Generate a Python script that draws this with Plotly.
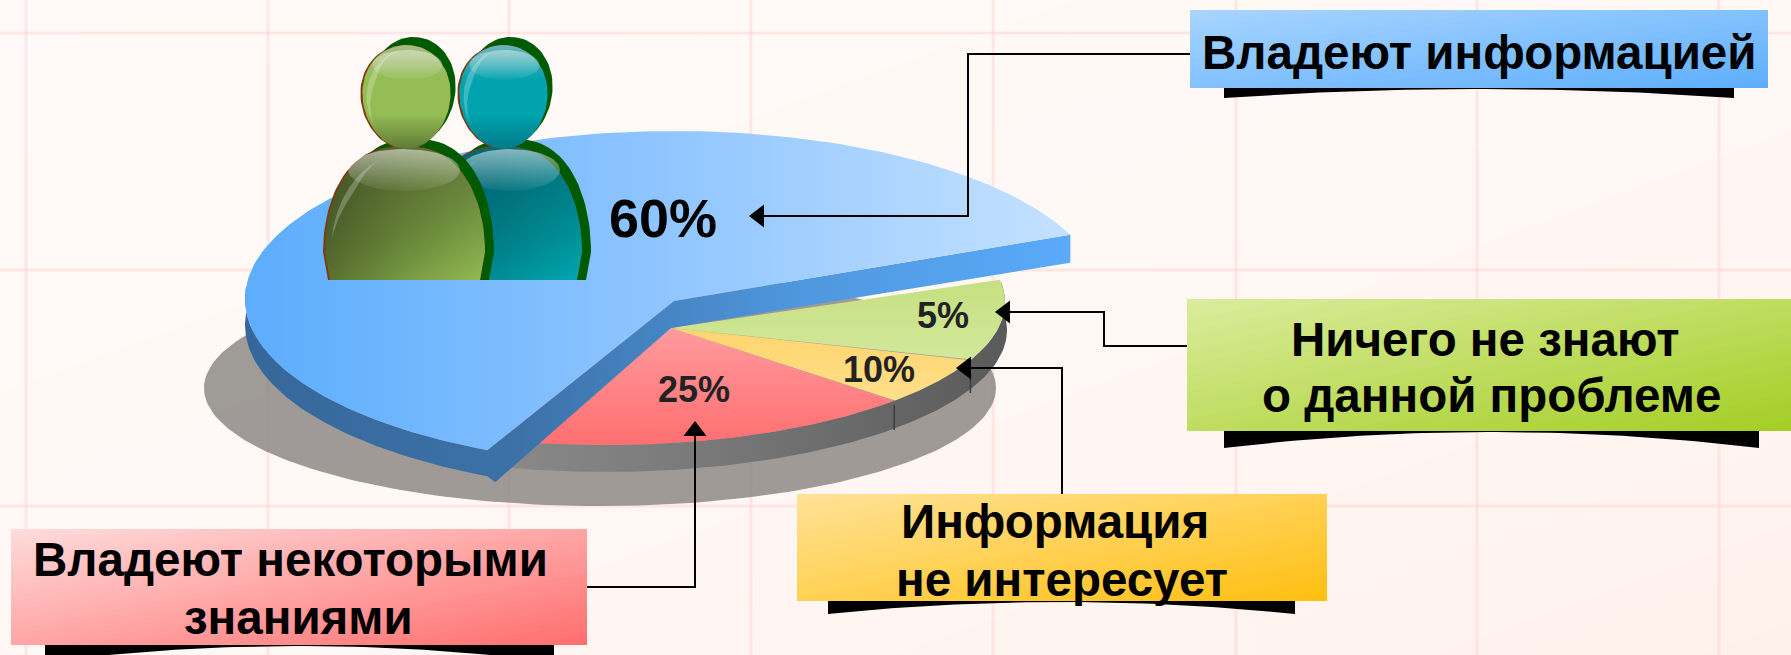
import numpy as np
import plotly.graph_objects as go

# ---------- chart content ----------
slice_names = ["Владеют информацией", "Владеют некоторыми знаниями", "Информация не интересует", "Ничего не знают о данной проблеме"]
slice_values = [60, 25, 10, 5]
# slice boundaries on the tilted drawing, in degrees of ellipse angle
blue_edges = [22.5, 244.2]
lower_edges = [-115, -43.7, -24, 9]
lower_colors = [["#ff9a9e", "#ff6f70"], ["#ffd46c", "#ffdf8a"], ["#c6df80", "#d2e89c"]]

W, H = 1791, 655
fig = go.Figure()
shapes = []
TOP_DARK = "#005a00"


def hexrgb(c):
    c = c.lstrip("#")
    return np.array([int(c[i:i + 2], 16) for i in (0, 2, 4)], float)


def mix(stops, t):
    n = len(stops) - 1
    p = min(max(t, 0), 1) * n
    i = min(int(p), n - 1)
    c = hexrgb(stops[i]) * (1 - (p - i)) + hexrgb(stops[i + 1]) * (p - i)
    return "rgb(%d,%d,%d)" % tuple(np.round(c))


def clip(poly, f):
    out = []
    for a, b in zip(poly, poly[1:] + poly[:1]):
        fa, fb = f(a), f(b)
        if fa >= 0:
            out.append(a)
        if (fa >= 0) != (fb >= 0):
            s = fa / (fa - fb)
            out.append((a[0] + s * (b[0] - a[0]), a[1] + s * (b[1] - a[1])))
    return out


def grad_rect(x0, y0, x1, y1, stops, layer="above", n=48):
    rect = [(x0, y0), (x1, y0), (x1, y1), (x0, y1)]
    tf = lambda p: 0.5 * (p[0] - x0) / (x1 - x0) + 0.5 * (p[1] - y0) / (y1 - y0)
    for i in range(n):
        ti = i / n
        poly = clip(rect, lambda p: tf(p) - ti) if i else rect
        if len(poly) < 3:
            continue
        path = "M" + "L".join(f"{a:.2f},{b:.2f}" for a, b in poly) + "Z"
        shapes.append(dict(type="path", path=path, xref="x", yref="y", layer=layer,
                           fillcolor=mix(stops, (i + 0.5) / n), line_width=0))


def area(xs, ys, name, color=None, grad=None, gtype="horizontal", start=None, stop=None, line=None):
    kw = dict(x=list(xs), y=list(ys), mode="lines", fill="toself", name=name, hoverinfo="skip",
              line=dict(width=line[1] if line else 0, color=line[0] if line else "rgba(0,0,0,0)"))
    if grad:
        # the y axis runs downward, so vertical colour lists (written top to bottom) are flipped
        g_list = grad[::-1] if gtype == "vertical" else grad
        cs = [[i / (len(g_list) - 1), c] for i, c in enumerate(g_list)]
        g = dict(type=gtype, colorscale=cs)
        if start is not None:
            g.update(start=start, stop=stop)
        kw["fillgradient"] = g
    else:
        kw["fillcolor"] = color
    fig.add_trace(go.Scatter(**kw))


def arc(cx, cy, rx, ry, t0, t1, n=120):
    t = np.radians(np.linspace(t0, t1, n))
    return cx + rx * np.cos(t), cy - ry * np.sin(t)


# ---------- background ----------
grad_rect(0, 0, W, H, ["#fffaf9", "#fff8f5", "#fef1ec"], layer="below", n=40)
for gx in [26, 268, 509, 751, 993, 1236, 1477, 1719]:
    shapes.append(dict(type="line", x0=gx, x1=gx, y0=0, y1=H, xref="x", yref="y", layer="below",
                       line=dict(color="rgba(255,205,200,0.42)", width=3)))
for gy in [33, 270, 506]:
    shapes.append(dict(type="line", x0=0, x1=W, y0=gy, y1=gy, xref="x", yref="y", layer="below",
                       line=dict(color="rgba(255,205,200,0.42)", width=3)))

# ---------- shadow disc ----------
x, y = arc(600, 388, 396, 118, 0, 360, 240)
area(x, y, "shadow", color="rgba(122,118,114,0.72)")

# ---------- lower part of the pie ----------
LCX, LCY, LRX, LRY = 605, 302, 400, 143
AX, AY = 671, 328
x1, y1 = arc(LCX, LCY, LRX, LRY, -118, 8)
x2, y2 = arc(605, 330, 402, 142, 8, -118)
area(np.r_[x1, x2], np.r_[y1, y2], "rim",
     grad=["#8e8e8e", "#777777", "#5a5a5a"], start=440, stop=1006)
for i in range(3):
    xa, ya = arc(LCX, LCY, LRX, LRY, lower_edges[i], lower_edges[i + 1])
    area(np.r_[AX, xa], np.r_[AY, ya], slice_names[i + 1], grad=lower_colors[i], gtype="vertical")
for e, y_from, y_to in [(lower_edges[1], 405, 430), (lower_edges[2], 375, 393)]:
    xa, ya = arc(LCX, LCY, LRX, LRY, e, e, 1)
    fig.add_trace(go.Scatter(x=[xa[0], xa[0]], y=[y_from, y_to], mode="lines",
                             line=dict(color="#3c3c3c", width=1.5), hoverinfo="skip"))

# ---------- large blue slice ----------
BCX, BCY, BRX, BRY = 674, 299, 429, 168
BAX, BAY = 674, 301
xb, yb = arc(BCX, BCY, BRX, BRY, blue_edges[0], blue_edges[1], 240)
xr, yr = arc(BCX, BCY, BRX, BRY, 176, blue_edges[1], 100)
wx = np.r_[xr + 0, xr[-1] + 8, AX, xb[0], xb[0], BAX, xr[-1], xr[::-1]]
wy = np.r_[yr + 26, yr[-1] + 32, AY, yb[0] + 28, yb[0], BAY, yr[-1], yr[::-1]]
area(wx, wy, "slice wall", grad=["#36679a", "#3c72a8", "#4f97de", "#5aabfa"], start=245, stop=1075)
area(np.r_[BAX, xb], np.r_[BAY, yb], slice_names[0], grad=["#5cadfd", "#8fc5ff", "#c4e1ff"])


# ---------- people ----------
def head(cx, cy, rx, ry):
    t = np.radians(np.linspace(0, 360, 90))
    w = 1 + 0.07 * np.sin(t)
    return cx + rx * np.cos(t) * w, cy - ry * np.sin(t)


def body(cx, top, w, base=252, bottom=280):
    t = np.radians(np.linspace(0, 180, 60))
    xs = cx + w * np.sign(np.cos(t)) * np.abs(np.cos(t)) ** 0.8
    ys = base - (base - top) * np.sin(t)
    return np.r_[cx + w - 5, xs, cx - w + 5], np.r_[bottom, ys, bottom]


def crescent(cx, cy, rx, ry, t0, t1, shift):
    xo, yo = arc(cx, cy, rx, ry, t0, t1, 40)
    xi, yi = arc(cx + shift, cy, rx, ry, t1, t0, 40)
    mid = np.abs(np.linspace(-1, 1, 40))
    xi = xo[::-1] + (xi - xo[::-1]) * (1 - mid)
    area(np.r_[xo, xi], np.r_[yo, yi], "gloss", color="rgba(255,255,255,0.24)")


def person(hx, bx, w, bcols, hcols, hl_x, hl_rx, tint):
    xb_, yb_ = body(bx + 9, 139, w - 1)
    area(xb_, yb_, "person", color=TOP_DARK)
    xb_, yb_ = body(bx - 1, 146, w)
    area(xb_, yb_, "person", color="#7d3a10")
    xb_, yb_ = body(bx, 147, w - 1)
    area(xb_, yb_, "person", grad=bcols)
    area(xb_, yb_, "shade", grad=[tint, "rgba(0,0,0,0)"], gtype="vertical")
    xe, ye = arc(hl_x, 170, hl_rx, 21, 0, 360, 60)
    area(xe, ye, "gloss", grad=["rgba(255,255,255,0.52)", "rgba(255,255,255,0.04)"], gtype="vertical")
    crescent(bx, 252, w - 7, 98, 110, 172, 8)
    xh, yh = head(hx + 7, 90, 42, 53)
    area(xh, yh, "person", color=TOP_DARK)
    xh, yh = head(hx - 1, 97, 45, 52)
    area(xh, yh, "person", color="#7d3a10")
    xh, yh = head(hx, 97, 44, 52)
    area(xh, yh, "person", grad=hcols, gtype="vertical")
    xe, ye = arc(hx + 1, 65, 35, 15, 0, 360, 60)
    area(xe, ye, "gloss", grad=["rgba(255,255,255,0.42)", "rgba(255,255,255,0.03)"], gtype="vertical")
    crescent(hx, 97, 40, 47, 100, 215, 7)


person(503.5, 503, 80, ["#00808c", "#008f99", "#00a8b0"], ["#6fb2ba", "#00a3ae", "#00a3ae", "#007c88"],
       510, 50, "rgba(0,60,80,0.45)")
person(406.5, 405, 81, ["#586f30", "#789a42", "#94bd54"], ["#a6bb84", "#94bd54", "#94bd54", "#607a36"],
       404, 56, "rgba(50,60,30,0.5)")


# ---------- callouts ----------
def base(x0, x1, ytop, ybot):
    xs = np.linspace(x0, x1, 60)
    u = (xs - (x0 + x1) / 2) / ((x1 - x0) / 2)
    yb_ = ytop + 1 + (ybot - ytop - 1) * u ** 2
    area(np.r_[x0, xs, x1], np.r_[ytop, yb_, ytop], "band", color="#000000")


base(1224, 1734, 88, 98)
base(1224, 1759, 431, 448)
base(828, 1295, 601, 614)
base(45, 554, 645, 662)

grad_rect(1190, 10, 1768, 88, ["#a8d5ff", "#5eaefc"])
grad_rect(1187, 299, 1791, 431, ["#dbec9d", "#a3ce24"])
grad_rect(797, 494, 1327, 601, ["#ffe298", "#ffbf10"])
grad_rect(11, 529, 587, 645, ["#ffdcdc", "#ff6e6e"])

# ---------- leader lines with arrow heads ----------
leaders = [
    ([1190, 968, 968, 760], [54, 54, 216, 216], "triangle-left", 759, 216),
    ([1187, 1104, 1104, 1005], [346, 346, 312, 312], "triangle-left", 1005, 312),
    ([1062, 1062, 966], [494, 368, 368], "triangle-left", 966, 368),
    ([587, 695, 695], [587, 587, 432], "triangle-up", 695, 431),
]
for lx, ly, sym, mx, my in leaders:
    fig.add_trace(go.Scatter(x=lx, y=ly, mode="lines", line=dict(color="black", width=2), hoverinfo="skip"))
    fig.add_trace(go.Scatter(x=[mx], y=[my], mode="markers", hoverinfo="skip",
                             marker=dict(symbol=sym, size=20, color="black", line_width=0)))

# ---------- text ----------
pct = [f"{v}%" for v in slice_values]
labels = [
    (pct[0], 663, 218, 54, "#000000"), (pct[1], 694, 389, 36, "#222222"),
    (pct[2], 879, 369, 36, "#222222"), (pct[3], 943, 315, 36, "#222222"),
    ("Владеют информацией", 1479, 52, 47.5, "#000000"),
    ("Ничего не знают", 1485, 339, 47.5, "#000000"), ("о данной проблеме", 1491, 395, 47.5, "#000000"),
    ("Информация", 1055, 521, 47.5, "#000000"), ("не интересует", 1062, 579, 47.5, "#000000"),
    ("Владеют некоторыми", 290, 559, 47.5, "#000000"), ("знаниями", 298, 617, 47.5, "#000000"),
]
annotations = [dict(text=t, x=ax, y=ay, xref="x", yref="y", showarrow=False, xanchor="center", yanchor="middle",
                    font=dict(family="Liberation Sans", size=s, color=c, weight=700))
               for t, ax, ay, s, c in labels]

fig.update_layout(
    width=W, height=H, margin=dict(l=0, r=0, t=0, b=0), showlegend=False,
    paper_bgcolor="#fff8f5", plot_bgcolor="rgba(0,0,0,0)",
    xaxis=dict(range=[0, W], visible=False, fixedrange=True),
    yaxis=dict(range=[H, 0], visible=False, fixedrange=True),
    shapes=shapes, annotations=annotations, hovermode=False,
)
fig.write_html("out.html", config={"displayModeBar": False},
               post_script="document.body.style.margin='0';document.body.style.overflow='hidden';")
